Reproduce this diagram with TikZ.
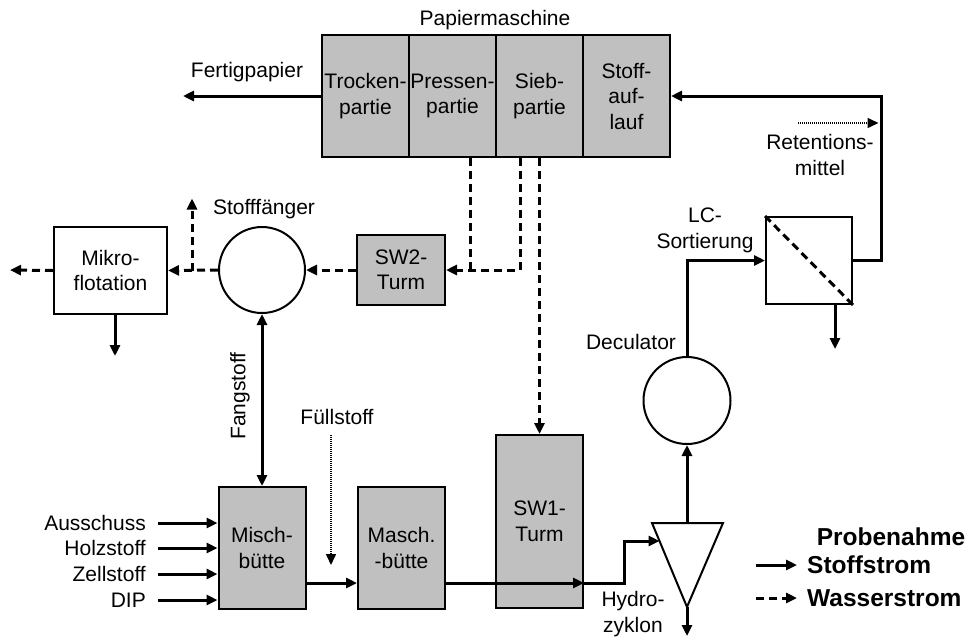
\documentclass[tikz,border=0pt]{standalone}
\usepackage{fontspec}
\setmainfont{Liberation Sans}
\usetikzlibrary{arrows.meta,calc}
\definecolor{boxgray}{RGB}{192,192,192}
\begin{document}
\begin{tikzpicture}[x=1pt,y=-1pt,
  every node/.style={font=\fontsize{21}{25.5}\selectfont, inner sep=0pt},
  unit/.style={draw, line width=2pt, fill=boxgray, align=center, minimum width=87pt, minimum height=122pt},
  wbox/.style={draw, line width=2pt, fill=white, align=center},
  vessel/.style={draw, circle, line width=2pt, fill=white, minimum size=86pt},
  flow/.style={line width=3pt, -{Triangle[length=11pt,width=10pt]}},
  water/.style={line width=3pt, dash pattern=on 8pt off 5pt, -{Triangle[length=11pt,width=10pt]}},
  waterline/.style={line width=3pt, dash pattern=on 8pt off 5pt},
  dose/.style={line width=1.5pt, dash pattern=on 1pt off 1pt, -{Triangle[length=11pt,width=10pt]}},
  lbl/.style={align=center},
  legendtext/.style={font=\fontsize{24.5}{28}\selectfont\bfseries}
]
\useasboundingbox (0,0) rectangle (974,638);

% Papiermaschine
\node[lbl] (pmlabel) at (495,20) {Papiermaschine};
\node[unit] (trocken) at (365.5,96) {Trocken-\\partie};
\node[unit] (press) at (452.5,96) {Pressen-\\partie};
\node[unit] (sieb) at (539.5,96) {Sieb-\\partie};
\node[unit] (stoff) at (626.5,96) {Stoff-\\auf-\\lauf};

\node[lbl] (fplabel) at (247,72) {Fertigpapier};
\coordinate (fpend) at (183,96);
\draw[flow] (trocken.west) -- (fpend);

% SW2, Stofffaenger, Mikroflotation
\node[unit, minimum width=88pt, minimum height=70pt] (sw2) at (401,270) {SW2-\\Turm};
\node[vessel] (sf) at (262,270) {};
\node[lbl] (sflabel) at (264,209) {Stofffänger};
\node[wbox, minimum width=113pt, minimum height=87pt] (mikro) at (110.5,270.5) {Mikro-\\flotation};

\draw[waterline] ([xshift=17.5pt]press.south) -- ++(0,113);
\draw[water] ([xshift=-19.5pt]sieb.south) |- (sw2.east);
\draw[water] (sw2.west) -- (sf.east);
\draw[water] (sf.west) -- (mikro.east);
\coordinate (branch) at ($(mikro.east)+(24,0)$);
\draw[water] (branch) -- ++(0,-72);
\coordinate (mikroout) at (10,270);
\draw[water] (mikro.west) -- (mikroout);
\draw[flow] ([xshift=4.5pt]mikro.south) -- ++(0,41);

% lower chain
\node[unit] (misch) at (262,548) {Misch-\\bütte};
\node[unit] (masch) at (401.5,548) {Masch.\\-bütte};
\node[unit, minimum height=173pt] (sw1) at (539.5,521.5) {SW1-\\Turm};

\draw[water] (sieb.south) -- (sw1.north);
\draw[flow, {Triangle[length=11pt,width=10pt]}-{Triangle[length=11pt,width=10pt]}] (sf.south) -- (misch.north);
\node[lbl, rotate=90] (fanglabel) at (240,396) {Fangstoff};

\node[lbl] (fuelllabel) at (337,417) {Füllstoff};
\coordinate (fuellstart) at (331,435);
\coordinate (fuellend) at (331,565);
\draw[dose] (fuellstart) -- (fuellend);

% inputs
\node[anchor=east] (in1) at (146,523) {Ausschuss};
\node[anchor=east] (in2) at (146,548) {Holzstoff};
\node[anchor=east] (in3) at (146,574) {Zellstoff};
\node[anchor=east] (in4) at (146,600) {DIP};
\foreach \n in {in1,in2,in3,in4}{
  \draw[flow] ([xshift=12pt]\n.east) -- (\n.east -| misch.west);
}

\draw[flow] ($(misch.east)+(0,35)$) -- ($(masch.west)+(0,35)$);
\coordinate (sw1r) at ($(sw1.east)+(0,61.5)$);
\draw[flow] ($(masch.east)+(0,35)$) -- (sw1r);

% Hydrozyklon
\coordinate (hztl) at (652,523);
\coordinate (hztr) at (723,523);
\coordinate (hzbot) at (687,607);
\coordinate (hztop) at (687,523);
\coordinate (hzin) at (659.5,541);
\draw[line width=2pt, fill=white] (hztl) -- (hztr) -- (hzbot) -- cycle;
\draw[flow] (sw1r) -- ++(40,0) |- (hzin);
\coordinate (hzout) at (687,636);
\draw[flow] (hzbot) -- (hzout);
\node[lbl] (hzlabel) at (633,614) {Hydro-\\zyklon};

% Deculator
\node[vessel, minimum size=87pt] (dec) at (687,400.5) {};
\node[lbl] (declabel) at (631,342) {Deculator};
\draw[flow] (hztop) -- (dec.south);

% LC-Sortierung
\node[wbox, minimum width=86pt, minimum height=87pt] (lc) at (809,260.5) {};
\draw[waterline] (lc.north west) -- (lc.south east);
\node[lbl] (lclabel) at (705,230.5) {LC-\\Sortierung};
\draw[flow] (dec.north) |- (lc.west);
\draw[flow] ([xshift=-18pt]lc.south east) -- ++(0,44);
\draw[flow] (lc.east) -- ++(28,0) |- (stoff.east);

% Retentionsmittel
\coordinate (retstart) at (798,123);
\coordinate (retend) at (878.5,123);
\draw[dose] (retstart) -- (retend);
\node[lbl] (retlabel) at (820,155) {Retentions-\\mittel};

% legend
\node[legendtext] (probe) at (891,537) {Probenahme};
\node[legendtext, anchor=west] (lstoff) at (807,565) {Stoffstrom};
\node[legendtext, anchor=west] (lwasser) at (807,598) {Wasserstrom};
\coordinate (ls1) at (756,565);
\coordinate (lw1) at (756,598);
\draw[flow] (ls1) -- ([xshift=-10pt]lstoff.west);
\draw[water] (lw1) -- ([xshift=-10pt]lwasser.west);
\end{tikzpicture}
\end{document}
